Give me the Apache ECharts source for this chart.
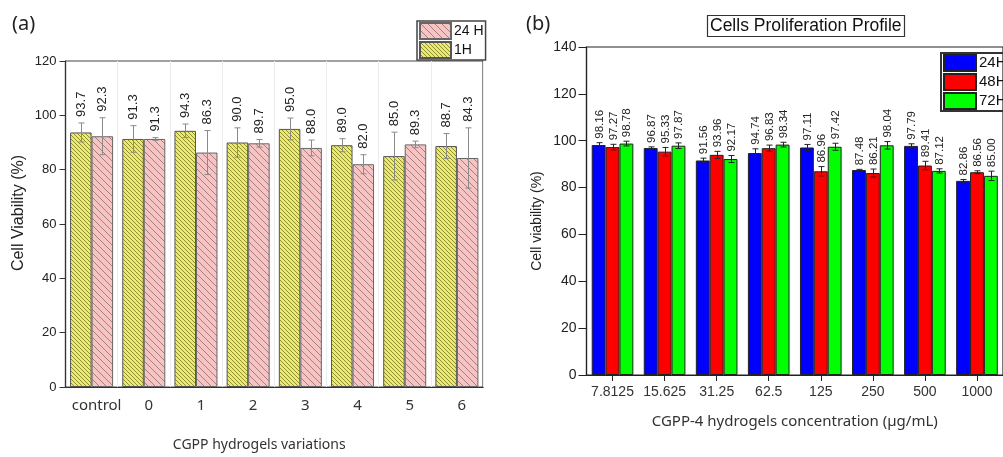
<!DOCTYPE html>
<html><head><meta charset="utf-8">
<script src="https://cdn.jsdelivr.net/npm/echarts@6/dist/echarts.min.js"></script>
<style>html,body{margin:0;padding:0;background:#fff}#c{width:1003px;height:457px}</style>
</head><body><div id="c"></div>
<script>
// ---- Panel (a) data ----
const catsA = ['control', '0', '1', '2', '3', '4', '5', '6'];
const h1 = [93.7, 91.3, 94.3, 90.0, 95.0, 89.0, 85.0, 88.7];
const h1Err = [3.5, 4.9, 2.5, 5.4, 4.0, 2.4, 8.8, 4.6];
const h24a = [92.3, 91.3, 86.3, 89.7, 88.0, 82.0, 89.3, 84.3];
const h24aErr = [6.8, 0.5, 8.1, 1.4, 2.9, 3.5, 1.2, 11.1];
const yTicksA = [0, 20, 40, 60, 80, 100, 120];

// ---- Panel (b) data ----
const catsB = ['7.8125', '15.625', '31.25', '62.5', '125', '250', '500', '1000'];
const b24 = [98.16, 96.87, 91.56, 94.74, 97.11, 87.48, 97.79, 82.86];
const b24Err = [1.0, 0.5, 1.0, 1.8, 1.3, 0.3, 0.9, 0.6];
const b48 = [97.27, 95.33, 93.96, 96.83, 86.96, 86.21, 89.41, 86.56];
const b48Err = [1.2, 1.8, 1.5, 1.3, 2.0, 1.7, 1.8, 0.6];
const b72 = [98.78, 97.87, 92.17, 98.34, 97.42, 98.04, 87.12, 85.00];
const b72Err = [1.0, 1.2, 1.5, 1.0, 1.5, 1.6, 0.9, 2.0];
const yTicksB = [0, 20, 40, 60, 80, 100, 120, 140];

const ARIAL = "'Liberation Sans', Arial, sans-serif";
const CAL = "'Noto Sans', 'Open Sans', sans-serif";

function hatch(bg, fg, p, lw) {
  const c = document.createElement('canvas');
  c.width = p; c.height = p;
  const g = c.getContext('2d');
  g.fillStyle = bg; g.fillRect(0, 0, p, p);
  g.strokeStyle = fg; g.lineWidth = lw;
  g.beginPath();
  for (let k = -1; k <= 1; k++) { g.moveTo(k * p, 0); g.lineTo(k * p + p, p); }
  g.stroke();
  return c;
}
const yellowPat = { image: hatch('#eaea74', '#8f8f30', 4, 1.0), repeat: 'repeat' };
const pinkPat = { image: hatch('#f8c3c3', '#a08080', 7, 1), repeat: 'repeat' };

function errSeries(opts) {
  const { xi, vals, errs, idx, n, gap, color, cap, digits, font, lgap, labelColor } = opts;
  return {
    type: 'custom', xAxisIndex: xi, yAxisIndex: xi, z: 5, silent: true,
    data: vals.map((v, i) => [i, v, errs[i]]),
    renderItem: function (params, api) {
      const ci = api.value(0), v = api.value(1), e = api.value(2);
      const c = api.coord([ci, v]);
      const band = api.size([1, 0])[0];
      const gw = band * (1 - gap), bw = gw / n;
      const x = Math.round(c[0] - gw / 2 + bw * (idx + 0.5)) + 0.5;
      const top = api.coord([ci, v + e])[1];
      const bot = api.coord([ci, v - e])[1];
      const ls = { stroke: color, lineWidth: 1 };
      return {
        type: 'group', children: [
          { type: 'line', shape: { x1: x, y1: top, x2: x, y2: bot }, style: ls },
          { type: 'line', shape: { x1: x - cap, y1: top, x2: x + cap, y2: top }, style: ls },
          { type: 'line', shape: { x1: x - cap, y1: bot, x2: x + cap, y2: bot }, style: ls },
          { type: 'text', x: x, y: top - lgap, rotation: Math.PI / 2,
            style: { text: v.toFixed(digits), fill: labelColor, font: font, align: 'left', verticalAlign: 'middle' } }
        ]
      };
    }
  };
}

const chart = echarts.init(document.getElementById('c'), null, { renderer: 'canvas' });
const gapA = 0.176, gapB = 0.2;
const option = {
  animation: false,
  backgroundColor: '#fff',
  title: [
    { text: '(a)', left: 7, top: 9, textStyle: { fontFamily: CAL, fontSize: 20, fontWeight: 'normal', color: '#222' } },
    { text: '(b)', left: 521, top: 9, textStyle: { fontFamily: CAL, fontSize: 20, fontWeight: 'normal', color: '#222' } },
    { text: 'Cells Proliferation Profile', left: 707, top: 15, padding: [2, 3, 2, 3], borderColor: '#333', borderWidth: 1.2,
      textStyle: { fontFamily: ARIAL, fontSize: 17.5, fontWeight: 'normal', color: '#111' } }
  ],
  legend: [
    { data: ['24 H', '1H'], orient: 'vertical', left: 417, top: 21, padding: [1, 2, 1, 2], itemGap: 1,
      itemWidth: 31, itemHeight: 16, borderColor: '#444', borderWidth: 1.5, icon: 'rect',
      textStyle: { fontFamily: ARIAL, fontSize: 14, color: '#111', padding: [0, 0, 0, -2] } },
    { data: ['24H', '48H', '72H'], orient: 'vertical', left: 941, top: 53, padding: [1, 2, 1, 2], itemGap: 1,
      itemWidth: 32, itemHeight: 16, borderColor: '#333', borderWidth: 2, icon: 'rect',
      textStyle: { fontFamily: ARIAL, fontSize: 15, color: '#111', padding: [0, 0, 0, -2] } }
  ],
  grid: [
    { left: 65.5, top: 61, right: 520, bottom: 68, show: true, borderColor: '#444', borderWidth: 1.2, containLabel: false },
    { left: 586.5, top: 47, right: -10, bottom: 82, show: true, borderColor: '#222', borderWidth: 1.2, containLabel: false }
  ],
  xAxis: [
    { type: 'category', gridIndex: 0, data: catsA,
      axisLine: { lineStyle: { color: '#333', width: 1.2 } }, axisTick: { show: false },
      splitLine: { show: true, interval: 0, lineStyle: { color: '#ececec', width: 1 } },
      axisLabel: { interval: 0, fontFamily: CAL, fontSize: 15, color: '#333', margin: 11, padding: [0, 0, 0, 10] },
      name: 'CGPP hydrogels variations', nameLocation: 'middle', nameGap: 51,
      nameTextStyle: { fontFamily: CAL, fontSize: 14, color: '#333', padding: [0, 30, 0, 0] } },
    { type: 'category', gridIndex: 1, data: catsB,
      axisLine: { lineStyle: { color: '#222', width: 1.2 } },
      axisTick: { show: true, interval: 0, alignWithLabel: true, length: 6, lineStyle: { color: '#222' } },
      axisLabel: { interval: 0, fontFamily: ARIAL, fontSize: 14, color: '#333', margin: 10 },
      name: 'CGPP-4 hydrogels concentration (\u00b5g/mL)', nameLocation: 'middle', nameGap: 39,
      nameTextStyle: { fontFamily: CAL, fontSize: 15, color: '#333' } }
  ],
  yAxis: [
    { type: 'value', gridIndex: 0, min: yTicksA[0], max: yTicksA[yTicksA.length - 1], interval: yTicksA[1] - yTicksA[0],
      axisLine: { show: true, lineStyle: { color: '#333', width: 1.2 } },
      axisTick: { show: true, length: 6, lineStyle: { color: '#333' } },
      splitLine: { show: false },
      axisLabel: { fontFamily: ARIAL, fontSize: 13, color: '#222', margin: 9 },
      name: 'Cell Viability (%)', nameLocation: 'middle', nameGap: 39, nameRotate: 90,
      nameTextStyle: { fontFamily: ARIAL, fontSize: 16, color: '#222', padding: [0, 0, 0, 22] } },
    { type: 'value', gridIndex: 1, min: yTicksB[0], max: yTicksB[yTicksB.length - 1], interval: yTicksB[1] - yTicksB[0],
      axisLine: { show: true, lineStyle: { color: '#222', width: 1.2 } },
      axisTick: { show: true, length: 8, lineStyle: { color: '#222' } },
      splitLine: { show: false },
      axisLabel: { fontFamily: ARIAL, fontSize: 14, color: '#222', margin: 10 },
      name: 'Cell viability (%)', nameLocation: 'middle', nameGap: 42, nameRotate: 90,
      nameTextStyle: { fontFamily: ARIAL, fontSize: 14, color: '#222', padding: [0, 20, 0, 0] } }
  ],
  series: [
    { name: '1H', type: 'bar', xAxisIndex: 0, yAxisIndex: 0, data: h1, barGap: 0, barCategoryGap: (gapA * 100) + '%',
      itemStyle: { color: yellowPat, borderColor: '#555', borderWidth: 1 } },
    { name: '24 H', type: 'bar', xAxisIndex: 0, yAxisIndex: 0, data: h24a, barGap: 0, barCategoryGap: (gapA * 100) + '%',
      itemStyle: { color: pinkPat, borderColor: '#666', borderWidth: 1 } },
    { name: '24H', type: 'bar', xAxisIndex: 1, yAxisIndex: 1, data: b24, barGap: 0, barCategoryGap: (gapB * 100) + '%',
      itemStyle: { color: '#0000ff', borderColor: '#222', borderWidth: 1 } },
    { name: '48H', type: 'bar', xAxisIndex: 1, yAxisIndex: 1, data: b48, barGap: 0, barCategoryGap: (gapB * 100) + '%',
      itemStyle: { color: '#ff0000', borderColor: '#222', borderWidth: 1 } },
    { name: '72H', type: 'bar', xAxisIndex: 1, yAxisIndex: 1, data: b72, barGap: 0, barCategoryGap: (gapB * 100) + '%',
      itemStyle: { color: '#00ff00', borderColor: '#222', borderWidth: 1 } },
    errSeries({ xi: 0, vals: h1, errs: h1Err, idx: 0, n: 2, gap: gapA, color: '#8a8a8a', cap: 3, digits: 1,
      font: '13px ' + ARIAL, lgap: 6, labelColor: '#222' }),
    errSeries({ xi: 0, vals: h24a, errs: h24aErr, idx: 1, n: 2, gap: gapA, color: '#8a8a8a', cap: 3, digits: 1,
      font: '13px ' + ARIAL, lgap: 6, labelColor: '#222' }),
    errSeries({ xi: 1, vals: b24, errs: b24Err, idx: 0, n: 3, gap: gapB, color: '#222', cap: 3, digits: 2,
      font: '11.5px ' + ARIAL, lgap: 4, labelColor: '#222' }),
    errSeries({ xi: 1, vals: b48, errs: b48Err, idx: 1, n: 3, gap: gapB, color: '#222', cap: 3, digits: 2,
      font: '11.5px ' + ARIAL, lgap: 4, labelColor: '#222' }),
    errSeries({ xi: 1, vals: b72, errs: b72Err, idx: 2, n: 3, gap: gapB, color: '#222', cap: 3, digits: 2,
      font: '11.5px ' + ARIAL, lgap: 4, labelColor: '#222' })
  ]
};
chart.setOption(option);
</script>
</body></html>
